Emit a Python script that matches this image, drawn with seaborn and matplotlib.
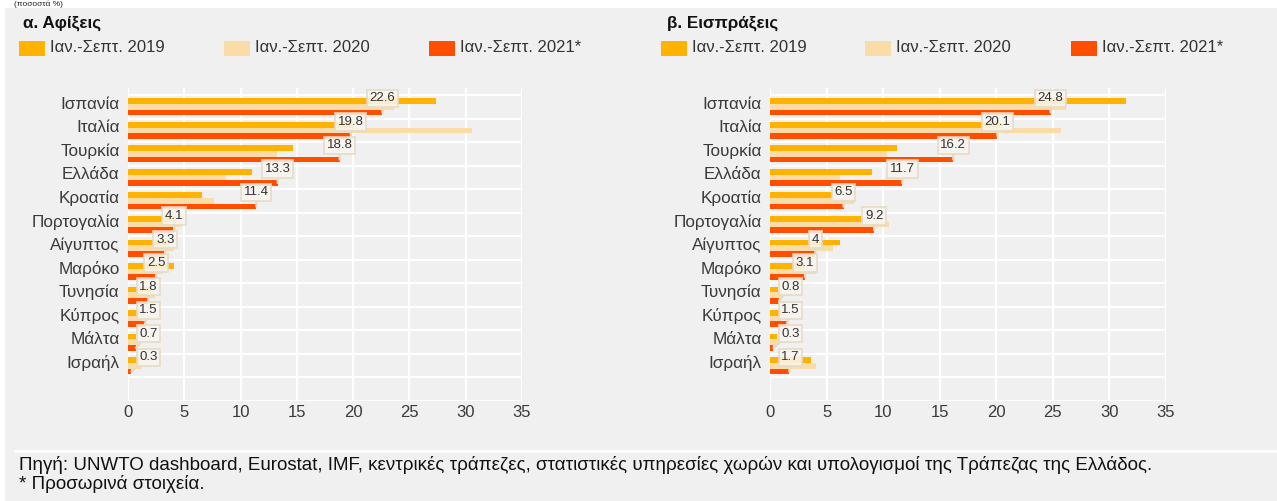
import numpy as np
import pandas as pd
import matplotlib
matplotlib.use("Agg")
import matplotlib.pyplot as plt
import seaborn as sns
from matplotlib.patches import Rectangle
from matplotlib.lines import Line2D
from matplotlib.transforms import ScaledTranslation

# ---------------- data ----------------
countries = ['Ισπανία', 'Ιταλία', 'Τουρκία', 'Ελλάδα', 'Κροατία', 'Πορτογαλία',
             'Αίγυπτος', 'Μαρόκο', 'Τυνησία', 'Κύπρος', 'Μάλτα', 'Ισραήλ']
periods = ['Ιαν.-Σεπτ. 2019', 'Ιαν.-Σεπτ. 2020', 'Ιαν.-Σεπτ. 2021*']

arrivals_2019 = [27.4, 20.0, 14.7, 11.0, 6.6, 4.3, 3.5, 4.1, 2.0, 1.0, 0.7, 1.0]
arrivals_2020 = [23.6, 30.6, 13.2, 8.7, 7.6, 4.7, 4.1, 3.1, 2.4, 1.3, 0.9, 1.2]
arrivals_2021 = [22.6, 19.8, 18.8, 13.3, 11.4, 4.1, 3.3, 2.5, 1.8, 1.5, 0.7, 0.3]

receipts_2019 = [31.5, 20.5, 11.2, 9.0, 5.6, 8.2, 6.2, 3.0, 0.7, 1.0, 0.6, 3.6]
receipts_2020 = [26.2, 25.7, 10.3, 6.2, 7.4, 10.5, 5.6, 4.1, 1.0, 1.1, 0.8, 4.1]
receipts_2021 = [24.8, 20.1, 16.2, 11.7, 6.5, 9.2, 4.0, 3.1, 0.8, 1.5, 0.3, 1.7]

arrivals_labels = ['22.6', '19.8', '18.8', '13.3', '11.4', '4.1', '3.3', '2.5', '1.8', '1.5', '0.7', '0.3']
receipts_labels = ['24.8', '20.1', '16.2', '11.7', '6.5', '9.2', '4', '3.1', '0.8', '1.5', '0.3', '1.7']

panel_titles = ['α. Αφίξεις', 'β. Εισπράξεις']
x_ticks = [0, 5, 10, 15, 20, 25, 30, 35]
source_text = ('Πηγή: UNWTO dashboard, Eurostat, IMF, κεντρικές τράπεζες, στατιστικές υπηρεσίες '
               'χωρών και υπολογισμοί της Τράπεζας της Ελλάδος.')
note_text = '* Προσωρινά στοιχεία.'
unit_text = '(ποσοστά %)'

colors = ['#FFB300', '#FADCA8', '#FF4E00']
BG = '#F0F0F0'

# ---------------- figure ----------------
W, H = 1277, 501
DPI = 100
sns.set_theme(style='white')
plt.rcParams['font.family'] = ['Liberation Sans', 'DejaVu Sans']

fig = plt.figure(figsize=(W / DPI, H / DPI), dpi=DPI, facecolor='white')

def fx(px):
    return px / W

def fy(py):
    return 1 - py / H

# grey background panel and separator
fig.add_artist(Rectangle((fx(5), 0), 1 - fx(5), fy(8), transform=fig.transFigure,
                         facecolor=BG, edgecolor='none', zorder=-10))
fig.add_artist(Line2D([fx(15), 1], [fy(451), fy(451)], transform=fig.transFigure,
                      color='white', lw=2, zorder=-5))
fig.text(fx(14), fy(0.5), unit_text, fontsize=6, color='#222222', va='top', ha='left')

panels = [
    dict(left=128, right=522, v19=arrivals_2019, v20=arrivals_2020, v21=arrivals_2021,
         labels=arrivals_labels, title_x=23, leg_x=[19, 224, 429]),
    dict(left=770, right=1166, v19=receipts_2019, v20=receipts_2020, v21=receipts_2021,
         labels=receipts_labels, title_x=667, leg_x=[661, 865, 1071]),
]

ax_top, ax_bot = 88, 401

for p, title in zip(panels, panel_titles):
    ax = fig.add_axes([fx(p['left']), fy(ax_bot), fx(p['right'] - p['left']),
                       (ax_bot - ax_top) / H])
    ax.set_facecolor(BG)
    df = pd.DataFrame({
        'country': countries * 3,
        'period': [periods[0]] * 12 + [periods[1]] * 12 + [periods[2]] * 12,
        'value': list(p['v19']) + list(p['v20']) + list(p['v21']),
    })
    sns.barplot(data=df, y='country', x='value', hue='period', order=countries,
                hue_order=periods, palette=colors, width=0.72, saturation=1,
                orient='h', dodge=True, legend=False, ax=ax, zorder=3)
    for b in ax.patches:
        b.set_edgecolor('none')

    ax.set_xlim(0, 35)
    ax.set_ylim(12.5, -0.8)
    ax.set_xlabel('')
    ax.set_ylabel('')
    for s in ax.spines.values():
        s.set_visible(False)
    # grid
    for xv in x_ticks:
        ax.axvline(xv, color='white', lw=1.6, zorder=1)
    for yv in np.arange(-0.5, 12.6, 1.0):
        ax.axhline(yv, color='white', lw=1.4, zorder=1)
    ax.set_xticks(x_ticks)
    ax.set_xticklabels([str(t) for t in x_ticks], fontsize=12, color='#3a3a3a')
    ax.tick_params(axis='x', length=0, pad=3)
    ax.set_yticks(range(len(countries)))
    ax.set_yticklabels(countries, fontsize=12.3, color='#3a3a3a')
    ax.tick_params(axis='y', length=0, pad=6)
    for lab in ax.get_yticklabels():
        lab.set_transform(lab.get_transform() + ScaledTranslation(0, 3 / 72, fig.dpi_scale_trans))

    # callout data labels
    ppu = (p['right'] - p['left']) / 35.0
    for i, (v, lab) in enumerate(zip(p['v21'], p['labels'])):
        hw_px = len(lab) * 5.2 + 2
        cx = max(v, (3 + hw_px) / ppu)
        ax.annotate(lab, xy=(v, i + 0.24), xytext=(cx, i - 0.36),
                    textcoords='data', ha='center', va='center', fontsize=9.5,
                    color='#333333', zorder=6,
                    bbox=dict(boxstyle='square,pad=0.2', fc='#F8F5EF', ec='#E6DAC6',
                              lw=1.3, alpha=0.88),
                    arrowprops=dict(arrowstyle='-', color='#E6DAC6', lw=1.6,
                                    shrinkA=0, shrinkB=0))

    # panel title and legend
    fig.text(fx(p['title_x']), fy(23), title, fontsize=12.3, fontweight='bold',
             color='#111111', ha='left', va='center')
    for lx, per, c in zip(p['leg_x'], periods, colors):
        fig.add_artist(Rectangle((fx(lx), fy(56)), fx(26), 15 / H,
                                 transform=fig.transFigure, facecolor=c, edgecolor='none'))
        fig.text(fx(lx + 31), fy(48), per, fontsize=12, color='#333333',
                 ha='left', va='center')

fig.text(fx(19), fy(465), source_text, fontsize=13.5, color='#111111', ha='left', va='center')
fig.text(fx(19), fy(484), note_text, fontsize=13.5, color='#111111', ha='left', va='center')

fig.savefig('out.png', dpi=DPI, facecolor='white')
